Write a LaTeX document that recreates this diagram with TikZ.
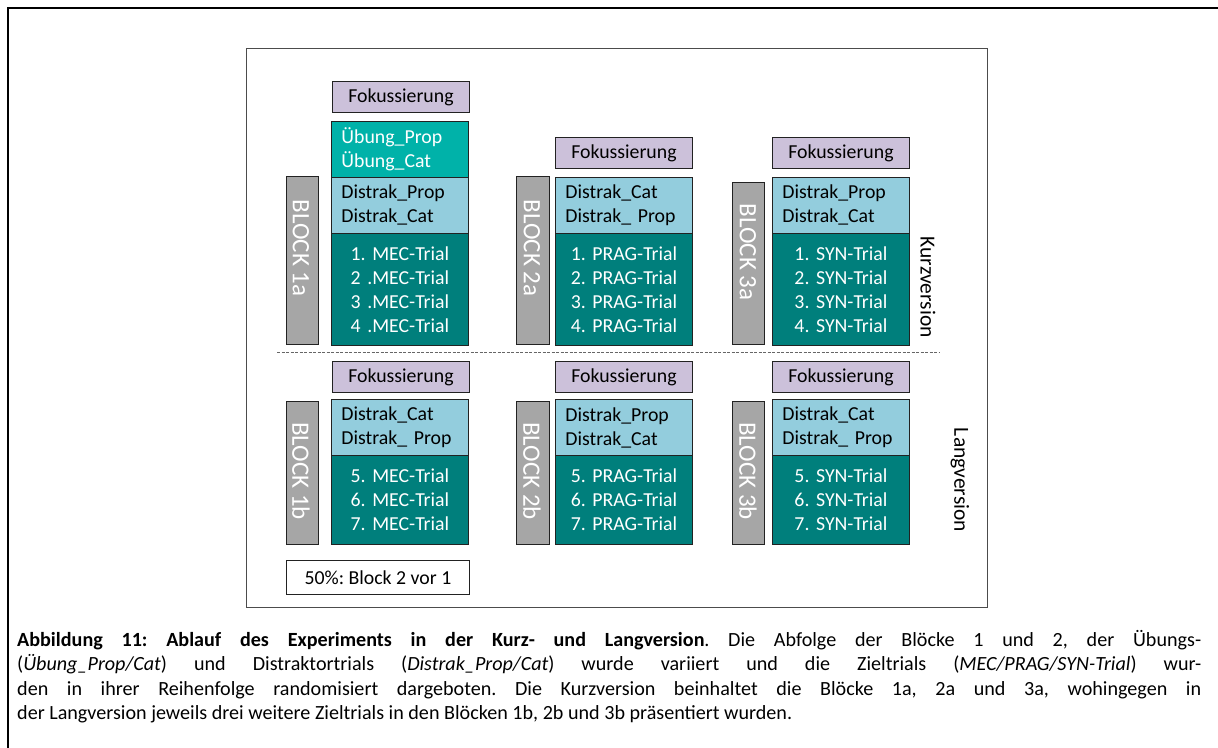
\documentclass[tikz,border=0pt]{standalone}
\usepackage{fontspec}
\setmainfont{Carlito}
\frenchspacing
\definecolor{fokc}{HTML}{CCC1DA}
\definecolor{uebc}{HTML}{00B2A9}
\definecolor{disc}{HTML}{93CDDD}
\definecolor{tric}{HTML}{007F7C}
\definecolor{blkc}{HTML}{A6A6A6}
\definecolor{edgec}{HTML}{222222}
\newcommand{\capA}{\textbf{Abbildung 11: Ablauf des Experiments in der Kurz- und Langversion}. Die Abfolge der Blöcke 1 und 2, der Übungs-}
\newcommand{\capB}{(\textit{Übung\_Prop/Cat}) und Distraktortrials (\textit{Distrak\_Prop/Cat}) wurde variiert und die Zieltrials (\textit{MEC/PRAG/SYN-Trial}) wur-}
\newcommand{\capC}{den in ihrer Reihenfolge randomisiert dargeboten. Die Kurzversion beinhaltet die Blöcke 1a, 2a und 3a, wohingegen in}
\newcommand{\capD}{der Langversion jeweils drei weitere Zieltrials in den Blöcken 1b, 2b und 3b präsentiert wurden.}
\newlength\capwd
\settowidth\capwd{\fontsize{10}{12}\selectfont\capD}
\tikzset{
  base/.style={draw=edgec, line width=0.9pt, anchor=north west, inner sep=0pt, font=\fontsize{19.8}{24}\selectfont},
  fokbox/.style={base, fill=fokc, minimum width=137pt, minimum height=31pt},
  uebbox/.style={base, fill=uebc, text=white, align=left, text width=117pt, inner xsep=10pt, minimum height=56pt},
  disbox/.style={base, fill=disc, align=left, text width=117pt, inner xsep=10pt, minimum height=56pt},
  tribox/.style={base, fill=tric, text=white, align=center, text width=137pt},
  blkbox/.style={base, fill=blkc, minimum width=32pt},
  blktext/.style={rotate=-90, text=white, inner sep=0pt, font=\fontsize{25}{25}\selectfont},
  vertext/.style={rotate=-90, inner sep=0pt, font=\fontsize{21.5}{24}\selectfont},
}
\begin{document}
\pgfmathsetmacro\capsize{10*775/\the\capwd}
\tikzset{capline/.style={anchor=base west, inner sep=0pt, font=\fontsize{\capsize}{24}\selectfont}}
\begin{tikzpicture}[x=1pt,y=-1pt]
\useasboundingbox (0,0) rectangle (1218,747);
% outer frame
\draw[line width=2pt] (8,780) -- (8,8) -- (1240,8);
% inner frame
\draw[black!70, line width=1pt] (246,48) rectangle (987,607);
% dashed separator
\coordinate (dl) at (277,352);
\coordinate (dr) at (940,352);
\draw[black!60, line width=1pt, dash pattern=on 3pt off 1.5pt] (dl) -- (dr);

% ---------- Block 1a ----------
\node[fokbox] (f1a) at (332,81) {Fokussierung};
\node[uebbox, minimum height=56pt] (u1a) at (331,121) {Übung\_Prop\\Übung\_Cat};
\node[disbox] (d1a) at (331,177) {Distrak\_Prop\\Distrak\_Cat};
\node[tribox, minimum height=112pt] (t1a) at (331,233) {1. MEC-Trial\\2 .MEC-Trial\\3 .MEC-Trial\\4 .MEC-Trial};
\node[blkbox, minimum height=168pt] (b1a) at (286,176) {};
\node[blktext] (b1at) at (301,248) {BLOCK 1a};

% ---------- Block 2a ----------
\node[fokbox] (f2a) at (555,137) {Fokussierung};
\node[disbox] (d2a) at (555,177) {Distrak\_Cat\\Distrak\_ Prop};
\node[tribox, minimum height=112pt] (t2a) at (555,233) {1. PRAG-Trial\\2. PRAG-Trial\\3. PRAG-Trial\\4. PRAG-Trial};
\node[blkbox, minimum height=168pt, minimum width=33pt] (b2a) at (516,176) {};
\node[blktext] (b2at) at (532,248) {BLOCK 2a};

% ---------- Block 3a ----------
\node[fokbox] (f3a) at (772,137) {Fokussierung};
\node[disbox] (d3a) at (772,177) {Distrak\_Prop\\Distrak\_Cat};
\node[tribox, minimum height=112pt] (t3a) at (772,233) {1. SYN-Trial\\2. SYN-Trial\\3. SYN-Trial\\4. SYN-Trial};
\node[blkbox, minimum height=162pt] (b3a) at (732,182) {};
\node[blktext] (b3at) at (748,252) {BLOCK 3a};

% ---------- Block 1b ----------
\node[fokbox] (f1b) at (332,361) {Fokussierung};
\node[disbox] (d1b) at (331,399) {Distrak\_Cat\\Distrak\_ Prop};
\node[tribox, minimum height=89pt] (t1b) at (331,455) {5. MEC-Trial\\6. MEC-Trial\\7. MEC-Trial};
\node[blkbox, minimum height=143pt] (b1b) at (286,401) {};
\node[blktext] (b1bt) at (301,471) {BLOCK 1b};

% ---------- Block 2b ----------
\node[fokbox] (f2b) at (555,361) {Fokussierung};
\node[disbox] (d2b) at (555,399) {Distrak\_Prop\\Distrak\_Cat};
\node[tribox, minimum height=89pt] (t2b) at (555,455) {5. PRAG-Trial\\6. PRAG-Trial\\7. PRAG-Trial};
\node[blkbox, minimum height=143pt, minimum width=33pt] (b2b) at (516,401) {};
\node[blktext] (b2bt) at (532,471) {BLOCK 2b};

% ---------- Block 3b ----------
\node[fokbox] (f3b) at (772,361) {Fokussierung};
\node[disbox] (d3b) at (772,399) {Distrak\_Cat\\Distrak\_ Prop};
\node[tribox, minimum height=89pt] (t3b) at (772,455) {5. SYN-Trial\\6. SYN-Trial\\7. SYN-Trial};
\node[blkbox, minimum height=143pt] (b3b) at (732,401) {};
\node[blktext] (b3bt) at (748,471) {BLOCK 3b};

% version labels
\node[vertext] (kurz) at (928,287) {Kurzversion};
\node[vertext] (lang) at (960,480) {Langversion};

% 50% box
\node[base, fill=white, minimum width=183pt, minimum height=34pt] (pct) at (286,560) {50\%: Block 2 vor 1};

% caption
\node[capline] (c1) at (17,646) {\makebox[1184pt][s]{\capA}};
\node[capline] (c2) at (17,670) {\makebox[1184pt][s]{\capB}};
\node[capline] (c3) at (17,695) {\makebox[1184pt][s]{\capC}};
\node[capline] (c4) at (17,719) {\capD};
\end{tikzpicture}
\end{document}
